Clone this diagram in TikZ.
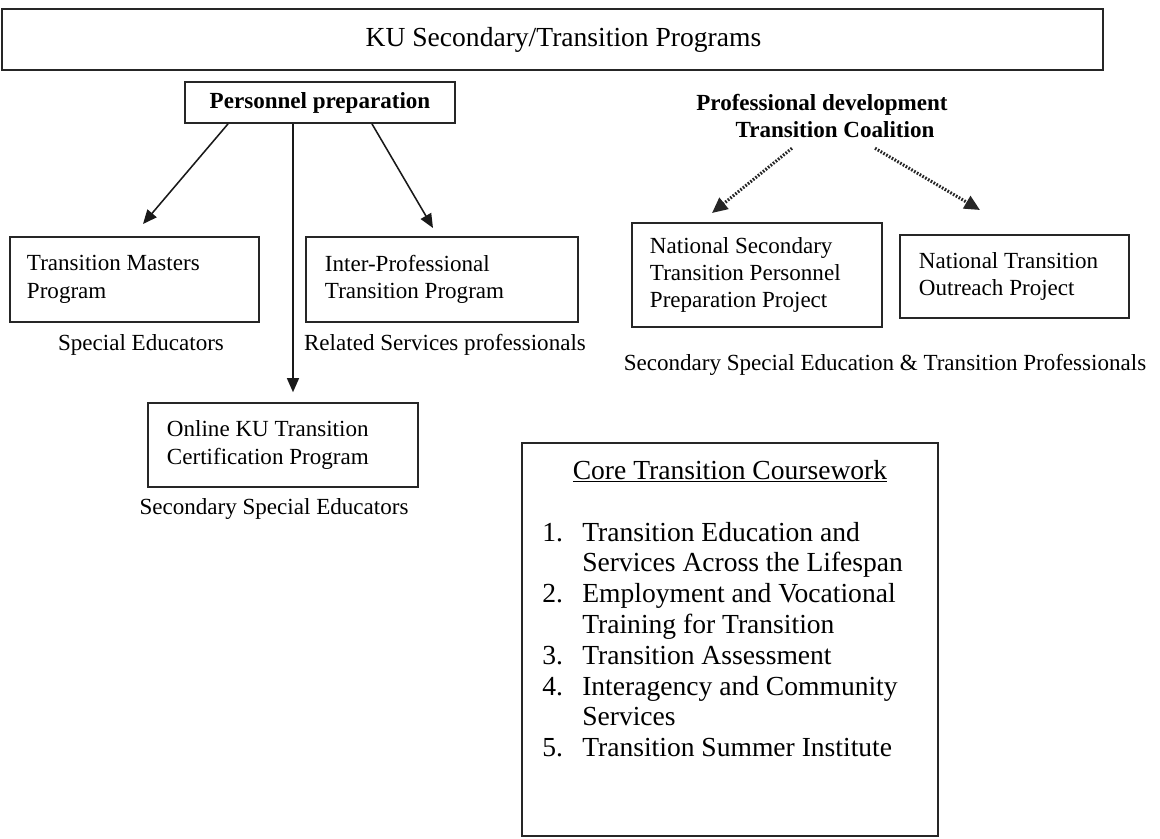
\documentclass[tikz,border=0pt]{standalone}
\usepackage{fontspec}
\setmainfont{Liberation Serif}
\usetikzlibrary{arrows.meta,positioning,calc}

\newcommand\bodyfont{\fontsize{16.4}{19.5}\selectfont}
\newcommand\bigfont{\fontsize{19.6}{23}\selectfont}

\tikzset{
  box/.style={draw=black!85, line width=1.3pt, inner sep=0pt, align=flush left},
  lbl/.style={inner sep=0pt},
  arr/.style={-{Triangle[length=10pt,width=8.5pt]}, line width=1.1pt, black!90},
  dotarr/.style={-{Triangle[length=11pt,width=10pt]}, line width=2.2pt, black!85,
    dash pattern=on 1.2pt off 1.1pt},
}

\begin{document}
\begin{tikzpicture}[x=0.025cm, y=-0.025cm, font=\bodyfont]
\useasboundingbox (0,0) rectangle (1160,838);

% header
\node[box, align=center, minimum width=27.525cm, minimum height=1.525cm, font=\bigfont] (ku) at (552.5,39.5) {\hspace*{0.55cm}KU Secondary/Transition Programs};

% personnel preparation
\node[box, align=center, minimum width=6.75cm, minimum height=1.025cm, font=\bodyfont\bfseries] (pp) at (320,102.5) {Personnel preparation};
\node[box, minimum width=6.225cm, minimum height=2.125cm, text width=5.375cm] (tm) at (134.5,279.5) {Transition Masters\\Program};
\node[box, minimum width=6.8cm, minimum height=2.125cm, text width=5.85cm] (ip) at (442,279.5) {Inter-Professional\\Transition Program};
\node[box, minimum width=6.75cm, minimum height=2.1cm, text width=5.8cm] (ol) at (283,445) {Online KU Transition\\Certification Program};

\node[lbl] (se) at (141,345) {Special Educators};
\node[lbl] (rsp) at (445,345) {Related Services professionals};
\node[lbl] (sse) at (274,509) {Secondary Special Educators};

\coordinate (tm-in) at (143,224);
\coordinate (ip-in) at (433,228);
\coordinate (pp-v) at ([xshift=-0.675cm]pp.south);
\draw[arr] ([xshift=-2.3cm]pp.south) -- (tm-in);
\draw[arr] ([xshift=1.3cm]pp.south) -- (ip-in);
\draw[arr, shorten >=7pt] (pp-v) -- (pp-v |- ol.north);

% professional development
\node[lbl, align=center, font=\bodyfont\bfseries] (pd) at (822,116) {Professional development\\\hspace*{0.65cm}Transition Coalition};
\node[box, minimum width=6.25cm, minimum height=2.6cm, text width=5.35cm] (ns) at (757,275) {National Secondary\\Transition Personnel\\Preparation Project};
\node[box, minimum width=5.725cm, minimum height=2.075cm, text width=4.775cm] (nto) at (1014.5,276.5) {National Transition\\Outreach Project};
\node[lbl] (sset) at (885,365) {Secondary Special Education \& Transition Professionals};

\coordinate (ns-in) at (712,213);
\coordinate (nto-in) at (980,210);
\draw[dotarr] ([xshift=-0.75cm,yshift=-0.25cm]pd.south) -- (ns-in);
\draw[dotarr] ([xshift=1.325cm,yshift=-0.25cm]pd.south) -- (nto-in);

% core coursework
\node[box, minimum width=10.4cm, minimum height=9.825cm] (core) at (730,639.5) {};
\node[lbl, anchor=base, font=\bigfont] (coret) at (730,479) {\underline{Core Transition Coursework}};
\foreach \n/\t [count=\i from 0] in {1./Transition Education and, /Services Across the Lifespan,
    2./Employment and Vocational, /Training for Transition, 3./Transition Assessment,
    4./Interagency and Community, /Services, 5./Transition Summer Institute} {
  \node[lbl, anchor=base west, font=\bigfont] (num\i) at (542,{541+30.8*\i}) {\n};
  \node[lbl, anchor=base west, font=\bigfont] (item\i) at (582,{541+30.8*\i}) {\t};
}
\end{tikzpicture}
\end{document}
